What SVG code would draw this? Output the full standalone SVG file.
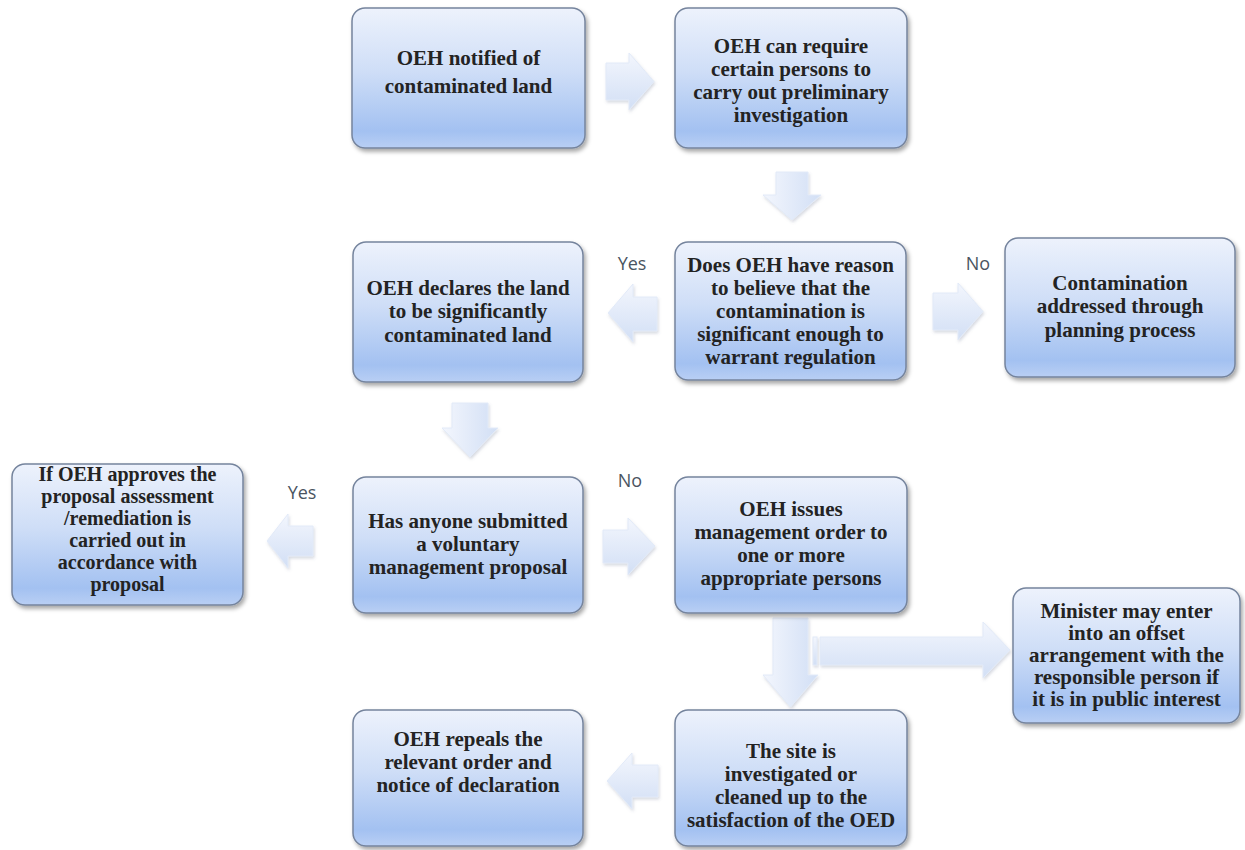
<svg xmlns="http://www.w3.org/2000/svg" width="1245" height="850" viewBox="0 0 1245 850">
  <defs>
    <linearGradient id="boxGrad" x1="0" y1="0" x2="0" y2="1">
      <stop offset="0" stop-color="#edf2fc"/>
      <stop offset="0.45" stop-color="#cfdef7"/>
      <stop offset="0.88" stop-color="#a3c1f1"/>
      <stop offset="1" stop-color="#b9cff4"/>
    </linearGradient>
    <linearGradient id="arrGrad" x1="0" y1="0" x2="0" y2="1">
      <stop offset="0" stop-color="#f3f6fd"/>
      <stop offset="1" stop-color="#d2dff5"/>
    </linearGradient>
    <linearGradient id="arrGradH" x1="0" y1="0" x2="1" y2="0">
      <stop offset="0" stop-color="#f3f6fd"/>
      <stop offset="1" stop-color="#d2dff5"/>
    </linearGradient>
    <filter id="shadow" x="-10%" y="-10%" width="125%" height="130%">
      <feDropShadow dx="2" dy="3" stdDeviation="2" flood-color="#000" flood-opacity="0.35"/>
    </filter>
    <filter id="ashadow" x="-20%" y="-20%" width="150%" height="150%">
      <feDropShadow dx="1" dy="2" stdDeviation="1.5" flood-color="#5a6a88" flood-opacity="0.25"/>
    </filter>
  </defs>
  <style>
    .box { fill: url(#boxGrad); stroke: #75849d; stroke-width: 1.5; filter: url(#shadow); }
    .txt { font-family: "Liberation Serif", "Times New Roman", serif; font-weight: bold; font-size: 21px; fill: #232323; text-anchor: middle; }
    .sm { font-size: 20px; }
    .lbl { font-family: "Open Sans", "DejaVu Sans", sans-serif; font-size: 18px; fill: #4a5461; text-anchor: middle; }
    .arr { fill: url(#arrGrad); stroke: #e2eaf8; stroke-width: 1; filter: url(#ashadow); }
    .arrv { fill: url(#arrGradH); stroke: #e2eaf8; stroke-width: 1; filter: url(#ashadow); }
  </style>
  <rect width="1245" height="850" fill="#ffffff"/>

  <g id="connectors">
    <!-- box1 -> box2 -->
    <path class="arr" d="M606,63 H629 V53 L654,81.5 L629,110 V100 H606 Z"/>
    <!-- box2 -> box3 -->
    <path class="arrv" d="M776,172 H808 V195 H821 L792,220 L763,195 H776 Z"/>
    <!-- box3 -> box5 (Yes) -->
    <path class="arr" d="M657,297 H633 V284 L608,313 L633,342 V331 H657 Z"/>
    <!-- box3 -> box4 (No) -->
    <path class="arr" d="M933,293 H958 V283 L983,311.5 L958,340 V330 H933 Z"/>
    <!-- box5 -> box7 -->
    <path class="arrv" d="M452,403 H488 V428 H498 L470,457 L442,428 H452 Z"/>
    <!-- box7 -> box6 (Yes) -->
    <path class="arr" d="M313,526 H288 V514 L267,541 L288,568 V556 H313 Z"/>
    <!-- box7 -> box8 (No) -->
    <path class="arr" d="M603,530 H628 V518 L655,546 L628,575 V563 H603 Z"/>
    <!-- box8 -> box11 -->
    <path class="arrv" d="M773,618 H808 V675 H818 L790.5,707 L763,675 H773 Z"/>
    <!-- box8 -> box9 (striped arrow) -->
    <rect class="arr" x="813" y="637" width="4" height="28"/>
    <path class="arr" d="M820,637 H983 V622 L1010,650 L983,678 V665 H820 Z"/>
    <!-- box11 -> box10 -->
    <path class="arr" d="M658,765 H632 V753 L607,781 L632,809 V797 H658 Z"/>
    <text class="lbl" x="632" y="270">Yes</text>
    <text class="lbl" x="978" y="270">No</text>
    <text class="lbl" x="302" y="499">Yes</text>
    <text class="lbl" x="630" y="487">No</text>
  </g>

  <g id="n1">
    <rect class="box" x="352" y="8" width="233" height="140" rx="13"/>
    <text class="txt" x="468.5" y="65">OEH notified of</text>
    <text class="txt" x="468.5" y="93">contaminated land</text>
  </g>
  <g id="n2">
    <rect class="box" x="675" y="8" width="232" height="140" rx="13"/>
    <text class="txt" x="791" y="53">OEH can require</text>
    <text class="txt" x="791" y="76">certain persons to</text>
    <text class="txt" x="791" y="99">carry out preliminary</text>
    <text class="txt" x="791" y="122">investigation</text>
  </g>
  <g id="n3">
    <rect class="box" x="675" y="242" width="231" height="138" rx="13"/>
    <text class="txt" x="790.5" y="272">Does OEH have reason</text>
    <text class="txt" x="790.5" y="295">to believe that the</text>
    <text class="txt" x="790.5" y="318">contamination is</text>
    <text class="txt" x="790.5" y="341">significant enough to</text>
    <text class="txt" x="790.5" y="364">warrant regulation</text>
  </g>
  <g id="n4">
    <rect class="box" x="1005" y="238" width="230" height="139" rx="13"/>
    <text class="txt" x="1120" y="290">Contamination</text>
    <text class="txt" x="1120" y="313">addressed through</text>
    <text class="txt" x="1120" y="337">planning process</text>
  </g>
  <g id="n5">
    <rect class="box" x="353" y="242" width="230" height="140" rx="13"/>
    <text class="txt" x="468" y="295">OEH declares the land</text>
    <text class="txt" x="468" y="318">to be significantly</text>
    <text class="txt" x="468" y="342">contaminated land</text>
  </g>
  <g id="n6">
    <rect class="box" x="12" y="464" width="231" height="141" rx="13"/>
    <text class="txt sm" x="127.5" y="481">If OEH approves the</text>
    <text class="txt sm" x="127.5" y="503">proposal assessment</text>
    <text class="txt sm" x="127.5" y="525">/remediation is</text>
    <text class="txt sm" x="127.5" y="547">carried out in</text>
    <text class="txt sm" x="127.5" y="569">accordance with</text>
    <text class="txt sm" x="127.5" y="591">proposal</text>
  </g>
  <g id="n7">
    <rect class="box" x="353" y="477" width="230" height="136" rx="13"/>
    <text class="txt" x="468" y="528">Has anyone submitted</text>
    <text class="txt" x="468" y="551">a voluntary</text>
    <text class="txt" x="468" y="574">management proposal</text>
  </g>
  <g id="n8">
    <rect class="box" x="675" y="477" width="232" height="136" rx="13"/>
    <text class="txt" x="791" y="516">OEH issues</text>
    <text class="txt" x="791" y="539">management order to</text>
    <text class="txt" x="791" y="562">one or more</text>
    <text class="txt" x="791" y="585">appropriate persons</text>
  </g>
  <g id="n9">
    <rect class="box" x="1013" y="588" width="227" height="135" rx="13"/>
    <text class="txt" x="1126.5" y="618">Minister may enter</text>
    <text class="txt" x="1126.5" y="640">into an  offset</text>
    <text class="txt" x="1126.5" y="662">arrangement with the</text>
    <text class="txt" x="1126.5" y="684">responsible person  if</text>
    <text class="txt" x="1126.5" y="706">it is in public interest</text>
  </g>
  <g id="n10">
    <rect class="box" x="353" y="710" width="230" height="136" rx="13"/>
    <text class="txt" x="468" y="746">OEH repeals the</text>
    <text class="txt" x="468" y="769">relevant order and</text>
    <text class="txt" x="468" y="792">notice of declaration</text>
  </g>
  <g id="n11">
    <rect class="box" x="675" y="710" width="232" height="136" rx="13"/>
    <text class="txt" x="791" y="758">The site is</text>
    <text class="txt" x="791" y="781">investigated or</text>
    <text class="txt" x="791" y="804">cleaned up to the</text>
    <text class="txt" x="791" y="827">satisfaction of the OED</text>
  </g>
</svg>
